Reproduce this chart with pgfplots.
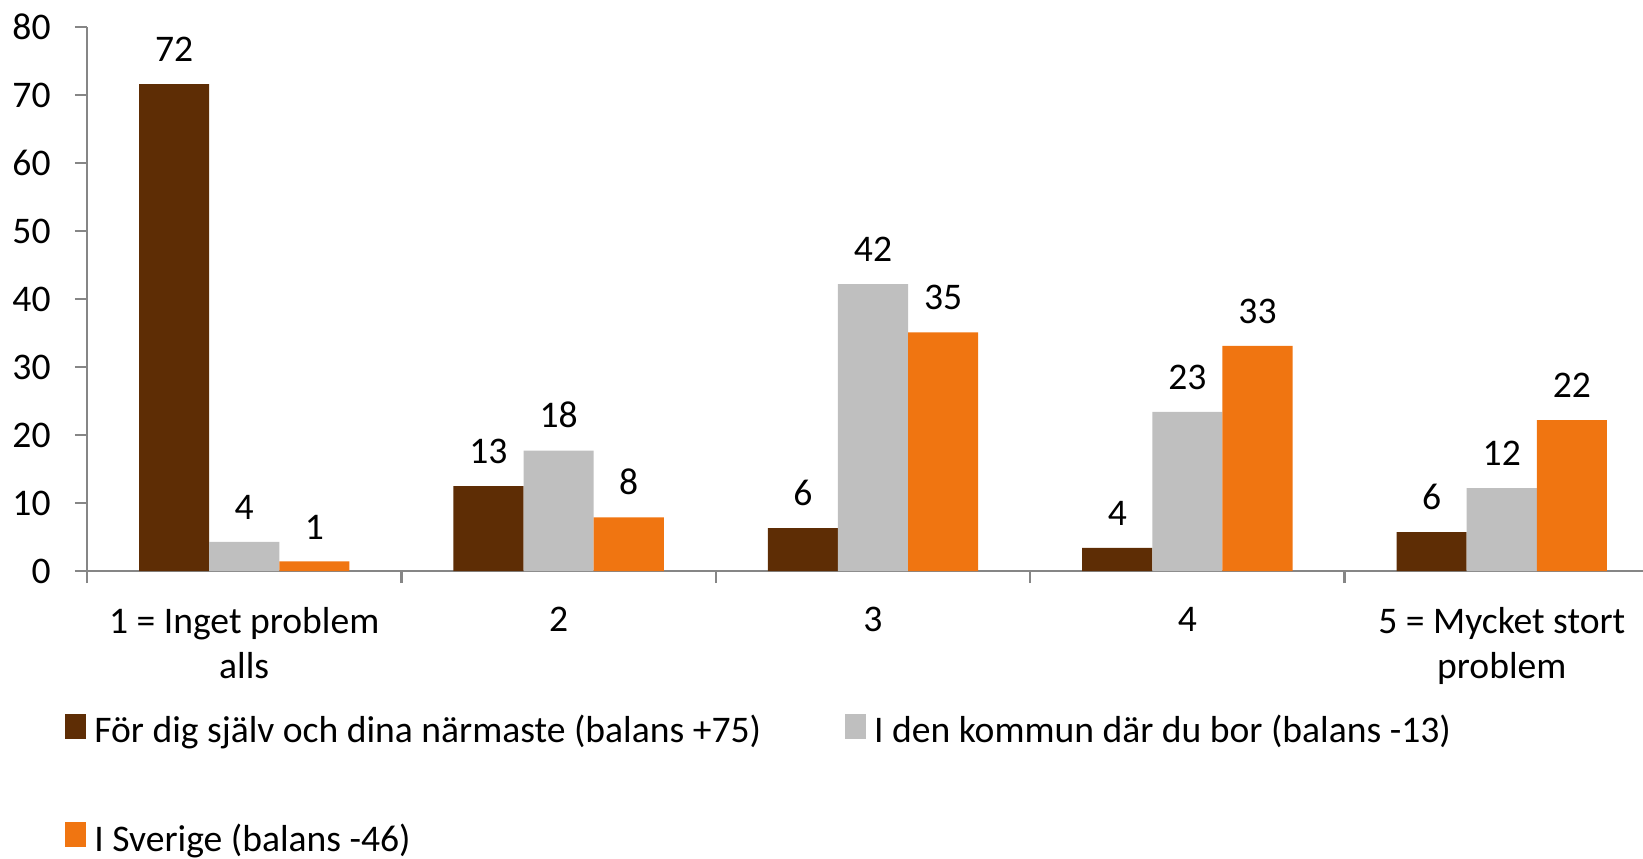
\documentclass[border=0pt]{standalone}
\usepackage{pgfplots}
\pgfplotsset{compat=1.18}
\usepackage{fontspec}
\setmainfont{Carlito}
\definecolor{cbrown}{HTML}{5E2D05}
\definecolor{cgray}{HTML}{BFBFBF}
\definecolor{corange}{HTML}{F07511}
\definecolor{caxis}{HTML}{868686}
\newcommand{\cf}{\fontsize{18.8bp}{22.5bp}\selectfont}
\begin{document}
\begin{tikzpicture}
\begin{axis}[
  at={(0,0)}, anchor=south west,
  scale only axis, width=786bp, height=272bp,
  xmin=0, xmax=5, ymin=0, ymax=80,
  ytick={0,10,...,80},
  xtick={0.5,1.5,2.5,3.5,4.5},
  xticklabels={{1 = Inget problem\\alls},2,3,4,{5 = Mycket stort\\problem}},
  minor xtick={0,1,2,3,4,5},
  axis lines*=left,
  axis line style={caxis, line width=1.2bp},
  tick style={caxis, line width=1.2bp},
  major x tick style={draw=none},
  tick align=outside,
  major tick length=6bp, minor tick length=6bp,
  /pgf/number format/assume math mode=true,
  ticklabel style={font=\cf, text=black},
  xticklabel style={align=center, anchor=north, inner sep=0pt, yshift=-12bp},
  yticklabel style={anchor=east, inner sep=0pt, xshift=-12bp},
  ybar=0pt, bar width=0.223,
  point meta=explicit symbolic,
  nodes near coords,
  every node near coord/.append style={anchor=south, inner sep=0pt, yshift=11bp, font=\cf, text=black},
  legend columns=2,
  legend cell align=left,
  legend style={draw=none, fill=none, at={(0,0)}, anchor=north west,
    xshift=-11bp, yshift=-70bp, inner sep=0pt, font=\cf,
    /tikz/every odd column/.append style={column sep=2bp},
    /tikz/every even column/.append style={column sep=40bp},
    row sep=35bp},
  legend image code/.code={\fill[#1] (0bp,-4bp) rectangle (10.5bp,8.5bp);},
]
\addplot[ybar, fill=cbrown, draw=none] coordinates {
  (0.5,71.6) [72] (1.5,12.5) [13] (2.5,6.3) [6] (3.5,3.4) [4] (4.5,5.7) [6]};
\addplot[ybar, fill=cgray, draw=none] coordinates {
  (0.5,4.3) [4] (1.5,17.7) [18] (2.5,42.2) [42] (3.5,23.4) [23] (4.5,12.2) [12]};
\addplot[ybar, fill=corange, draw=none] coordinates {
  (0.5,1.4) [1] (1.5,7.9) [8] (2.5,35.1) [35] (3.5,33.1) [33] (4.5,22.2) [22]};
\legend{För dig själv och dina närmaste (balans +75), I den kommun där du bor (balans -13), I Sverige (balans -46)}
\end{axis}
\pgfresetboundingbox
\useasboundingbox (-43.5bp,-144bp) rectangle (778bp,285.5bp);
\end{tikzpicture}
\end{document}
